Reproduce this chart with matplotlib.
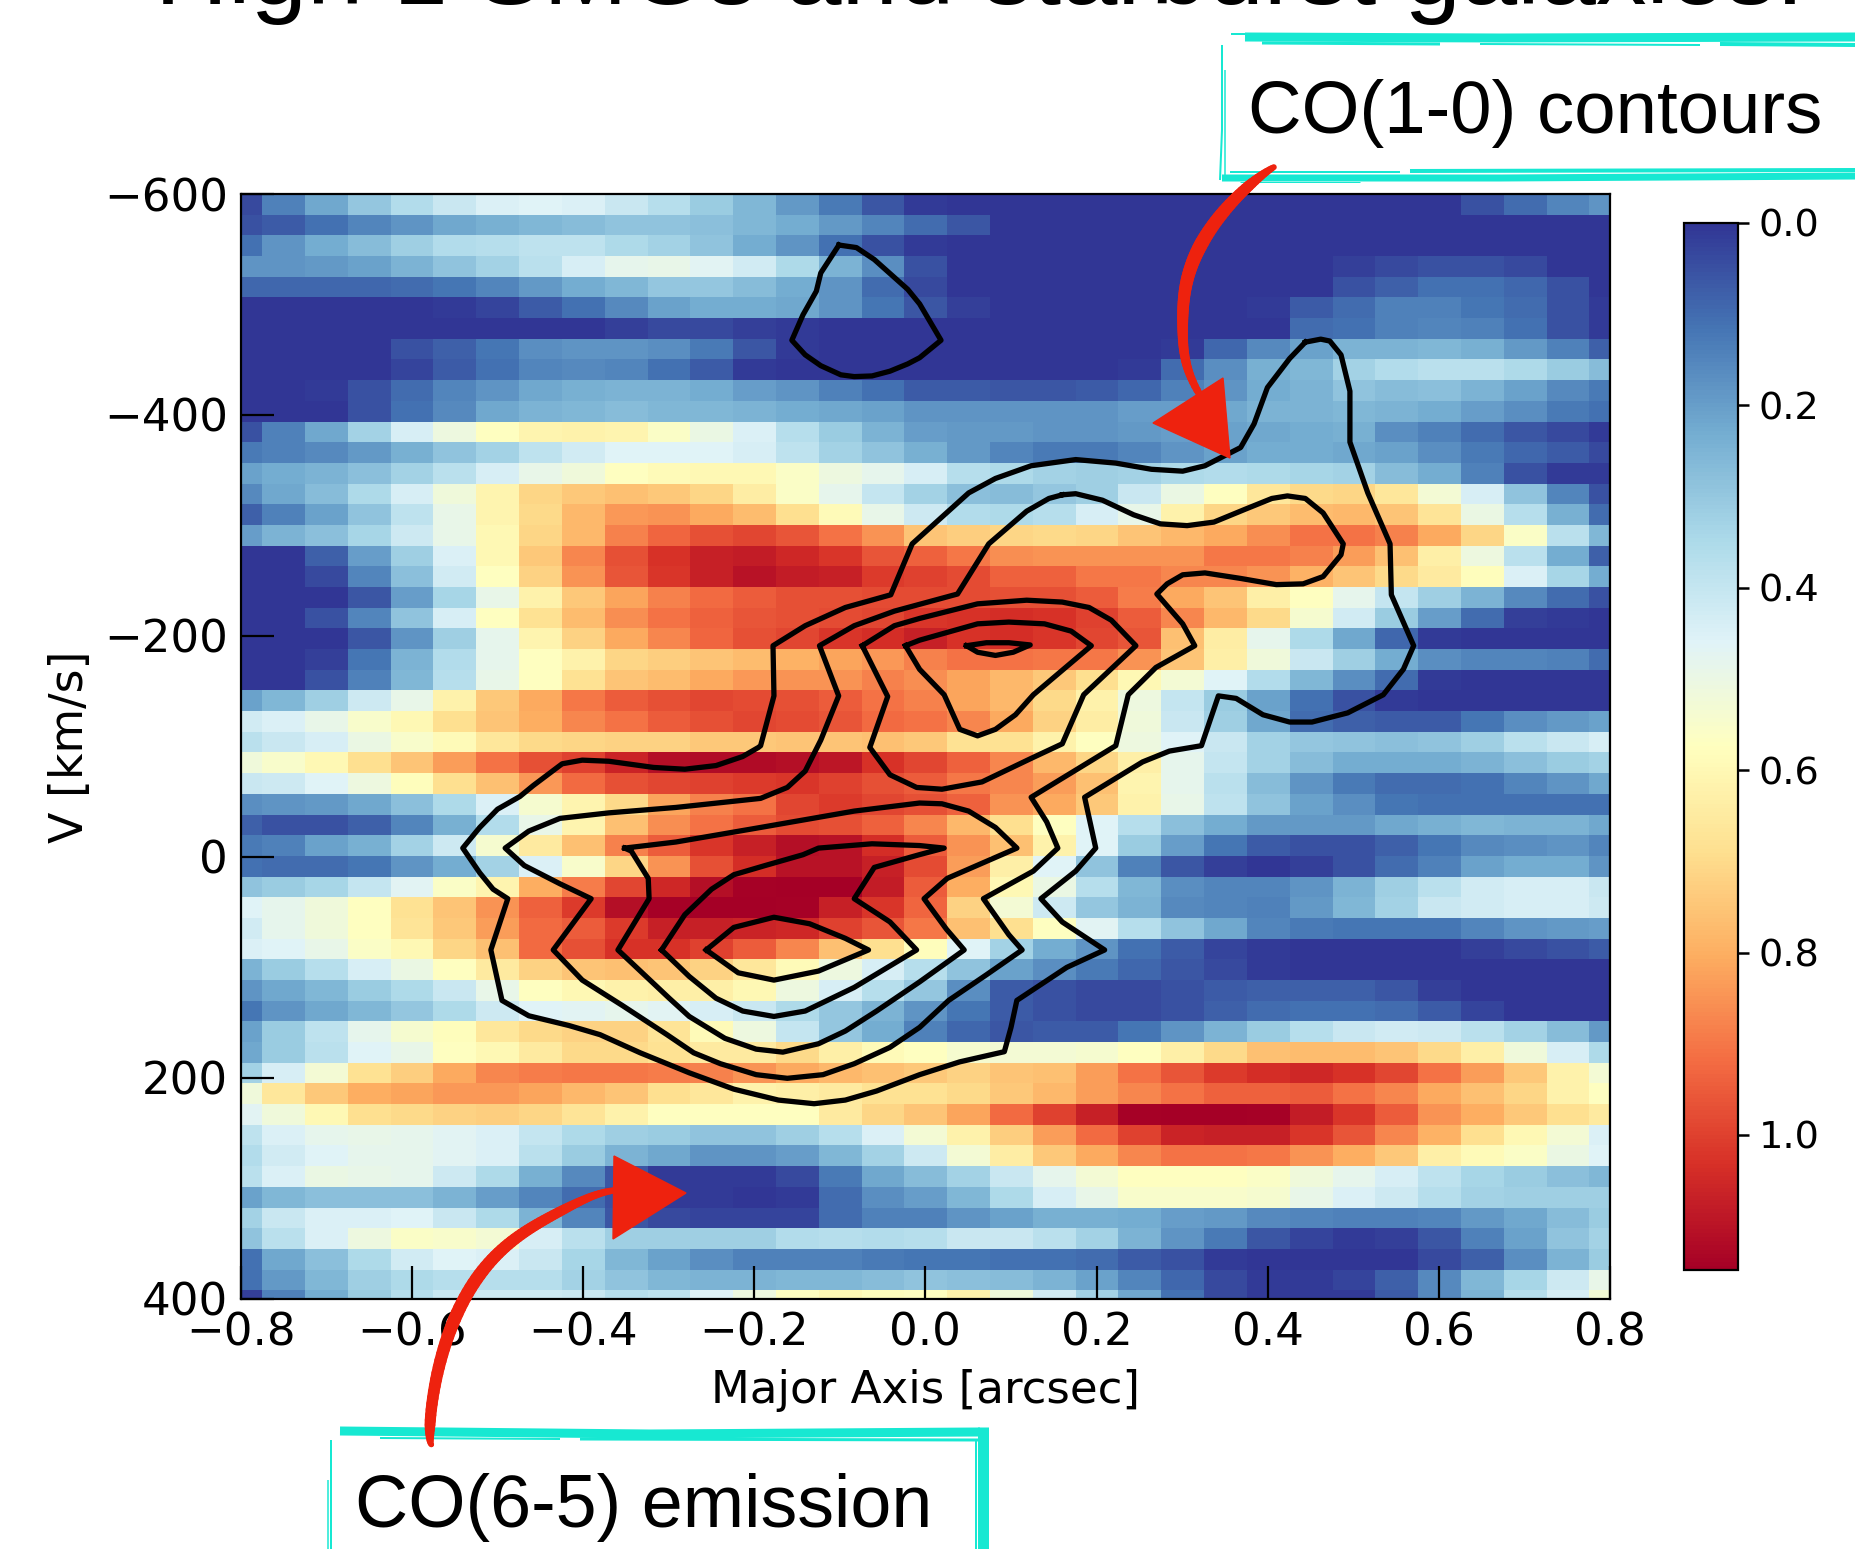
#!/usr/bin/env python3
import numpy as np
import matplotlib
matplotlib.use("Agg")
import matplotlib.pyplot as plt

W, H = 1856, 1549

# CO(6-5) map, flux x 100, one row per velocity channel (top = -600 km/s)
co65_x100 = [
    [4,14,22,30,36,41,45,46,45,41,37,31,26,19,13,6,1, 0,0,0,0,0,0,0,0,0,0,0,0,5,10,15,18],
    [5,7,11,15,18,22,24,26,27,29,29,28,26,23,19,15,10, 6,0,0,0,0,0,0,0,0,0,0,0,0,0,0,0],
    [11,18,23,27,32,36,37,39,39,35,33,29,23,18,11,5,1, 0,0,0,0,0,0,0,0,0,0,0,0,0,0,0,0],
    [18,18,19,21,25,29,33,38,44,48,49,47,43,35,25,17,5, 0,0,0,0,0,0,0,0,0,2,4,5,5,4,0,0],
    [9,9,9,9,10,12,15,19,23,26,30,30,27,23,18,10,4, 0,0,0,0,0,0,0,0,0,5,8,11,11,9,5,0],
    [0,0,0,0,0,1,3,7,11,16,21,23,23,22,18,12,6, 2,0,0,0,0,0,0,1,7,10,14,14,12,10,5,1],
    [0,0,0,0,0,0,0,0,0,2,4,4,2,1,0,0,0, 0,0,0,0,0,0,0,0,10,11,14,15,14,11,5,1],
    [0,0,0,0,5,8,12,17,18,18,17,13,6,1,0,0,0, 0,0,0,0,0,1,9,16,21,25,25,26,24,19,14,8],
    [0,0,0,0,3,7,11,15,16,15,11,7,1,0,0,0,0, 0,0,0,0,1,10,17,24,26,33,36,38,38,35,31,27],
    [0,0,1,5,10,15,18,22,24,25,25,23,20,18,14,11,7, 7,6,6,7,9,14,18,23,25,29,27,28,25,21,16,13],
    [0,0,0,5,11,16,22,25,26,27,26,26,25,23,22,21,18, 18,18,18,18,20,20,22,25,25,26,25,23,20,17,13,11],
    [5,14,22,33,44,51,57,61,62,61,56,50,45,37,31,25,20, 19,19,18,18,19,20,21,22,23,24,17,14,10,6,4,1],
    [13,14,16,19,24,29,33,39,43,46,46,46,44,39,33,29,24, 19,15,13,13,15,18,21,23,23,22,21,17,13,9,7,4],
    [21,23,25,28,33,38,44,49,52,57,59,60,60,56,51,48,44, 37,35,33,32,33,35,36,35,34,33,27,23,14,5,1,1],
    [16,22,27,35,44,52,61,71,74,76,74,71,64,56,48,40,33, 28,27,30,32,41,50,57,66,70,71,66,53,44,29,15,5],
    [8,14,21,29,39,49,61,70,78,84,85,81,77,69,59,49,42, 36,35,37,44,49,62,71,74,77,78,75,67,50,37,24,10],
    [20,25,28,34,42,49,60,71,78,88,93,97,99,96,91,85,75, 73,71,70,71,75,78,81,86,91,91,88,81,71,56,38,26],
    [0,0,8,20,32,45,60,74,87,97,103,107,108,105,102,96,94, 90,86,85,85,85,85,90,90,88,83,76,63,51,38,23,8],
    [0,0,4,15,28,43,57,72,85,96,102,107,110,108,107,101,100, 98,94,94,90,90,87,87,85,79,75,70,65,58,45,34,23],
    [0,0,0,6,20,34,49,62,74,82,88,92,95,97,97,98,98, 98,97,97,95,89,81,75,63,57,48,40,32,25,16,10,5],
    [0,0,5,15,29,44,57,68,77,86,91,94,96,97,98,99,102, 103,104,103,100,95,87,78,70,54,43,31,20,10,2,1,0],
    [0,0,0,6,18,32,48,61,72,81,87,93,97,99,102,104,107, 103,104,102,99,96,76,64,48,35,22,9,1,0,0,0,0],
    [0,0,2,12,25,36,48,57,62,71,73,75,77,79,82,84,88, 91,91,90,90,85,75,63,52,41,32,23,17,15,15,14,10],
    [0,0,5,14,26,37,49,57,68,75,77,81,84,85,85,88,86, 82,78,74,69,60,53,46,36,26,17,10,1,0,0,0,0],
    [21,26,32,42,49,62,74,81,90,95,97,99,98,97,95,91,88, 82,78,70,62,51,40,31,21,11,5,1,0,0,0,0,0],
    [43,45,49,55,60,69,75,80,87,91,95,97,99,98,96,92,91, 87,81,72,64,52,41,32,22,10,8,7,7,12,17,19,21],
    [38,41,44,50,55,59,66,70,71,72,72,74,74,75,75,76,74, 68,68,62,57,51,46,41,33,30,29,28,29,32,38,41,44],
    [52,55,60,69,75,83,91,97,100,106,111,112,112,111,109,103,99, 94,87,78,71,63,48,40,33,27,23,23,23,25,28,31,33],
    [41,42,46,51,58,69,76,84,92,97,99,100,101,102,100,97,95, 90,87,83,76,61,48,38,27,18,13,10,10,11,15,18,22],
    [17,18,19,22,28,35,45,54,61,70,82,88,91,99,101,99,97, 94,85,81,74,62,49,39,29,21,17,12,11,11,11,11,11],
    [8,5,5,8,15,24,36,49,61,76,86,91,95,98,97,94,87, 78,69,57,46,37,28,23,19,19,19,22,24,26,25,25,22],
    [13,14,21,24,33,42,54,65,76,88,95,102,107,111,110,104,95, 85,76,62,46,31,20,12,7,5,5,8,12,16,17,18,15],
    [11,10,10,12,18,23,33,45,55,71,85,97,104,110,110,107,98, 83,63,46,29,14,6,2,0,2,5,10,14,21,23,23,18],
    [29,31,34,40,47,56,61,80,89,99,105,111,114,115,115,108,95, 80,60,50,37,26,17,15,15,18,25,32,38,43,44,44,41],
    [46,48,52,57,68,75,85,94,101,111,114,115,115,114,107,102,93, 72,53,42,30,25,16,15,14,19,26,33,41,43,44,44,42],
    [43,48,52,57,67,74,83,92,95,101,107,107,106,105,100,96,90, 76,69,57,47,37,29,22,15,13,12,12,12,15,18,19,20],
    [45,46,49,56,60,71,76,92,97,103,103,100,95,87,76,69,58, 46,33,23,18,11,7,3,1,0,0,0,0,2,4,5,7],
    [25,31,37,44,50,57,65,72,75,76,75,72,66,59,51,44,37, 29,21,17,13,9,6,4,1,0,0,0,0,0,0,0,0],
    [18,22,26,31,35,41,49,57,60,62,63,63,60,51,44,37,30, 17,7,5,4,4,5,7,8,8,8,6,2,0,0,0,0],
    [12,18,22,26,30,35,42,46,47,48,47,44,41,35,30,25,18, 12,7,5,4,4,5,8,10,11,11,10,7,3,0,0,0],
    [21,31,39,48,54,58,66,70,72,72,67,59,51,40,30,23,14, 9,6,7,7,12,18,25,31,37,41,43,42,38,33,27,19],
    [22,31,38,46,49,57,60,65,70,70,68,65,65,70,63,59,57, 54,53,53,54,57,63,70,76,77,77,75,70,63,52,44,35],
    [33,44,53,68,73,81,87,89,90,90,89,88,85,81,78,76,74, 72,75,76,83,91,96,101,104,105,103,99,91,83,74,62,53],
    [52,66,74,80,82,84,84,82,78,75,69,66,62,63,65,68,68, 70,74,78,83,87,91,94,94,95,91,87,81,76,71,62,57],
    [47,52,60,69,70,72,73,71,67,62,57,57,57,57,65,71,75, 82,92,100,107,114,115,115,114,108,102,95,85,80,74,69,65],
    [39,45,48,49,48,47,45,40,35,32,31,29,29,32,37,45,53, 62,73,83,92,100,106,107,107,102,96,87,79,69,60,53,45],
    [36,43,46,48,48,47,45,38,31,25,22,18,18,20,26,33,42, 53,64,74,81,87,91,91,90,85,80,74,63,59,56,50,46],
    [38,45,50,49,48,42,35,24,16,6,1,1,1,4,13,22,27, 33,41,48,53,57,57,57,56,52,48,44,39,34,31,28,26],
    [21,26,28,28,28,25,20,15,10,5,1,1,0,1,10,17,20, 26,35,44,49,55,55,55,54,49,45,42,37,33,32,32,32],
    [33,41,45,45,46,41,35,25,15,6,4,3,3,3,10,14,14, 18,21,24,24,23,20,19,16,15,14,14,15,19,22,27,31],
    [29,38,45,51,56,55,53,44,38,32,32,32,32,36,37,36,37, 41,41,38,33,25,18,13,6,3,1,2,6,14,21,29,33],
    [11,22,28,35,43,46,45,41,34,26,21,17,14,14,14,13,12, 12,11,11,10,7,5,1,0,0,0,0,4,8,17,25,31],
    [11,19,26,32,35,37,37,37,33,29,26,25,25,26,26,27,29, 28,27,25,21,15,9,4,1,1,3,8,16,26,34,42,49],
    [2,14,23,31,37,41,42,42,41,37,39,46,51,57,60,58,57, 62,52,43,33,22,11,4,1,1,1,7,16,25,37,44,53],
]

# CO(1-0) contours, (major axis arcsec, velocity km/s)
contour_blob = [(-0.101,-553.8),(-0.0805,-551.5),(-0.0597,-540.7),(-0.0206,-513.7),(-0.0067,-500.5),(0.0183,-467.6),
    (-0.0067,-451.8),(-0.0206,-446.2),(-0.0414,-439.6),(-0.0623,-435.3),(-0.0831,-434.7),(-0.0987,-436.3),
    (-0.1222,-444.6),(-0.1404,-454.4),(-0.156,-467.6),(-0.143,-490.6),(-0.1274,-512),(-0.1222,-528.5)]
contour_outer = [(0.444,-465.9),(0.462,-468.6),(0.4726,-466.9),(0.4857,-454.4),(0.4961,-421.5),(0.4961,-375.4),
    (0.517,-329.4),(0.543,-283.3),(0.5445,-237.2),(0.5706,-191.1),(0.5586,-169.8),(0.5351,-146.7),(0.4935,-130.3),
    (0.4518,-122),(0.4257,-122),(0.3945,-128.6),(0.3632,-143.4),(0.3424,-145.7),(0.3226,-100.6),(0.2851,-95.7),
    (0.2538,-85.9),(0.1861,-53.9),(0.1991,-7.9),(0.1757,12.9),(0.135,37.9),(0.16,59),(0.2095,84.3),(0.1652,100.1),
    (0.1069,130),(0.1001,154.4),(0.0923,176.4),(0.0402,185.6),(-0.0067,197.2),(-0.057,212),(-0.0935,220.2),
    (-0.13,223.5),(-0.1717,220.2),(-0.2238,210.3),(-0.2759,195.5),(-0.3332,177.4),(-0.3801,161),(-0.4165,152.7),
    (-0.4634,143.9),(-0.4947,130),(-0.5077,84.3),(-0.4879,37.9),(-0.5051,29.3),(-0.5207,14.5),(-0.5405,-7.9),
    (-0.5207,-26.6),(-0.4999,-43.1),(-0.4738,-54.6),(-0.4582,-64.5),(-0.4244,-84.2),(-0.4009,-87.5),(-0.3697,-86.5),
    (-0.3175,-80.9),(-0.2811,-79.3),(-0.2446,-82.6),(-0.2134,-90.8),(-0.1951,-99),(-0.1925,-100.6),(-0.1769,-145.7),
    (-0.178,-191.1),(-0.1404,-209.2),(-0.0935,-225.7),(-0.0404,-237.2),(-0.0154,-283.3),(0.0506,-329.4),
    (0.0819,-342.5),(0.1236,-354),(0.1757,-359.6),(0.2225,-356.4),(0.2642,-350.8),(0.3007,-349.1),(0.3267,-354),
    (0.3684,-370.5),(0.3841,-391.9),(0.3997,-424.8),(0.4257,-451.1)]
contour_second = [(0.16,-327.7),(0.1757,-328.7),(0.207,-322.8),(0.2434,-309.6),(0.2746,-301.4),(0.3059,-299.8),
    (0.3372,-303),(0.3736,-314.6),(0.4049,-324.4),(0.4231,-326.7),(0.444,-324.4),(0.4648,-311.3),(0.4883,-283.3),
    (0.4857,-273.4),(0.4648,-253.7),(0.4414,-247.1),(0.4101,-246.4),(0.3684,-252),(0.3267,-257),(0.3007,-255.3),
    (0.2825,-247.1),(0.2705,-237.9),(0.3007,-210.9),(0.3148,-191.1),(0.2694,-171.4),(0.2371,-146.7),(0.2225,-100.6),
    (0.1236,-53.9),(0.1418,-31.6),(0.1548,-7.9),(0.1262,12.9),(0.0678,37.9),(0.0975,70.5),(0.1131,84.3),
    (0.0715,106.7),(0.0272,130),(-0.0067,154.4),(-0.0414,172.5),(-0.0831,187.3),(-0.1196,197.2),(-0.1613,200.5),
    (-0.1977,197.2),(-0.2394,187.3),(-0.2707,177.4),(-0.3019,161),(-0.354,134.6),(-0.4009,111.6),(-0.4348,84.3),
    (-0.3905,37.9),(-0.427,24.4),(-0.4686,7.9),(-0.491,-7.9),(-0.4634,-23.3),(-0.427,-34.8),(-0.3697,-39.8),
    (-0.2915,-44.7),(-0.1925,-52.9),(-0.1613,-62.8),(-0.1404,-77.6),(-0.1222,-105.6),(-0.1013,-145.7),
    (-0.1237,-191.1),(-0.0831,-209.2),(-0.0362,-222.4),(0.0376,-237.9),(0.0741,-283.3),(0.1184,-312.9),(0.1444,-324.4)]
contour_upper3 = [(-0.0737,-191.1),(-0.044,-145.1),(-0.0649,-99),(-0.0414,-74.3),(-0.0102,-62.8),(0.0194,-61.2),
    (0.0662,-67.8),(0.1236,-89.1),(0.16,-102.3),(0.185,-146.7),(0.246,-191.1),(0.2173,-214.2),(0.1913,-225.7),
    (0.16,-230.6),(0.1184,-232.3),(0.061,-229),(-0.0067,-215.8),(-0.0362,-209.2)]
contour_upper4 = [(-0.0232,-191.1),(-0.0067,-169.7),(0.022,-146.7),(0.0402,-115.4),(0.061,-109.5),(0.0819,-115.4),
    (0.1053,-128.6),(0.1262,-146.7),(0.1939,-191.1),(0.1704,-204.3),(0.1392,-210.9),(0.0975,-212.5),(0.061,-210.9),
    (-0.0067,-196.1)]
contour_upper5 = [(0.048,-191.1),(0.061,-185.2),(0.0819,-182.3),(0.1027,-185.2),(0.1225,-191.8),(0.0975,-193.8),
    (0.0714,-193.8)]
contour_lower3 = [(-0.3514,-7.9),(-0.2915,-13.4),(-0.1925,-26.6),(-0.0831,-41.4),(-0.0067,-48.7),(0.0194,-48),
    (0.0506,-41.4),(0.0819,-26.6),(0.107,-7.9),(0.0256,19.5),(-0.0015,37.9),(0.0246,65.5),(0.0454,84.3),
    (-0.0067,113.2),(-0.057,139.6),(-0.0935,157.7),(-0.1248,169.2),(-0.1665,176.8),(-0.1977,174.1),(-0.2342,164.3),
    (-0.2759,144.5),(-0.2993,128),(-0.3592,84.3),(-0.3228,37.9),(-0.3238,19.5),(-0.3436,-5.2)]
contour_lower4 = [(-0.3082,84.3),(-0.2811,52.4),(-0.2498,29.3),(-0.2238,16.2),(-0.1873,7.9),(-0.143,-1.9),
    (-0.1248,-7.9),(-0.0623,-11.8),(-0.0067,-10.2),(0.022,-7.9),(-0.0067,-2),(-0.0597,9.6),(-0.0831,37.9),
    (-0.0414,58.9),(-0.0102,84.3),(-0.0831,118.2),(-0.1404,139.6),(-0.1769,144.5),(-0.2134,139.6),(-0.2446,128),
    (-0.2759,108.3)]
contour_lower5 = [(-0.2561,84.3),(-0.2238,63.9),(-0.1769,54.7),(-0.1352,60.6),(-0.0935,73.8),(-0.0664,84.3),
    (-0.1248,103.4),(-0.1769,111.6),(-0.2186,105)]
contours = [contour_blob, contour_outer, contour_second, contour_upper3, contour_upper4, contour_upper5,
            contour_lower3, contour_lower4, contour_lower5]

x_ticks = [-0.8, -0.6, -0.4, -0.2, 0.0, 0.2, 0.4, 0.6, 0.8]
v_ticks = [-600, -400, -200, 0, 200, 400]
cbar_ticks = [0.0, 0.2, 0.4, 0.6, 0.8, 1.0]
vmax = 1.148

fig = plt.figure(figsize=(W / 100, H / 100), dpi=100)

left, right, top, bottom = 240.7, 1610, 194, 1298.7
ax = fig.add_axes([left / W, 1 - bottom / H, (right - left) / W, (bottom - top) / H])
co65 = np.array(co65_x100) / 100
im = ax.imshow(co65, cmap="RdYlBu_r", vmin=0, vmax=vmax, aspect="auto", interpolation="nearest",
               extent=(-0.825, 0.825, -600 + 54 * 18.72, -600))
for c in contours:
    xs = [p[0] for p in c] + [c[0][0]]
    vs = [p[1] for p in c] + [c[0][1]]
    ax.plot(xs, vs, color="black", lw=3.8, solid_joinstyle="round")
ax.set_xlim(-0.8, 0.8)
ax.set_ylim(400, -600)
ax.set_xticks(x_ticks)
ax.set_yticks(v_ticks)
ax.tick_params(direction="in", length=24, width=1.6, labelsize=32.5, pad=9)
ax.set_xlabel("Major Axis [arcsec]", fontsize=32.5, labelpad=11)
ax.set_ylabel("V [km/s]", fontsize=33, labelpad=8)
for s in ax.spines.values():
    s.set_linewidth(1.6)

cax = fig.add_axes([1684.5 / W, 1 - 1270 / H, (1737.6 - 1684.5) / W, (1270 - 222.7) / H])
cb = fig.colorbar(im, cax=cax, ticks=cbar_ticks)
cax.invert_yaxis()
cax.tick_params(length=8, width=1.8, labelsize=27.5, pad=7)
cb.outline.set_linewidth(1.6)

# hand drawn annotations on top, in pixels
ov = fig.add_axes([0, 0, 1, 1], zorder=10)
ov.set_xlim(0, W)
ov.set_ylim(H, 0)
ov.axis("off")
ov.patch.set_alpha(0)

teal = "#17e8d2"
red = "#ee220e"


def px(v):
    return v * 0.72


def band(xs, ys, width):
    ov.plot(xs, ys, color=teal, lw=px(width), solid_capstyle="butt")


# top right box
band([1245, 1500, 1856], [37, 38, 37], 9)
band([1262, 1440], [43, 44], 3)
band([1480, 1700], [44, 45], 2)
band([1720, 1856], [44, 45], 4)
band([1231, 1300], [34, 34], 2)
band([1222, 1222, 1220], [45, 130, 180], 2)
band([1225, 1225], [70, 175], 1.5)
band([1222, 1500, 1856], [178, 178, 176], 7)
band([1230, 1400], [172, 172], 2)
band([1410, 1856], [171, 170], 4)
band([1240, 1360], [182, 182], 1)

# bottom box
band([340, 650, 980], [1431, 1434, 1432], 9)
band([380, 560], [1438, 1439], 2)
band([580, 980], [1439, 1440], 3)
band([983, 983], [1427, 1549], 11)
band([976, 976], [1440, 1549], 2)
band([331, 331], [1440, 1549], 2)
band([328, 328], [1480, 1549], 1.5)

ov.text(155, 4, "High-z SMGs and starburst galaxies:", family="Liberation Sans", fontsize=72.9,
        va="baseline", ha="left", color="black")
ov.text(1248, 133, "CO(1-0) contours", family="Liberation Sans", fontsize=53.6, va="baseline", ha="left")
ov.text(355, 1527, "CO(6-5) emission", family="Liberation Sans", fontsize=53, va="baseline", ha="left")


def arrow(path, widths, head):
    pts = np.array(path, dtype=float)
    t = np.linspace(0, 1, len(pts))
    tt = np.linspace(0, 1, 80)
    # smooth the pen stroke through the traced points
    sx = np.polyval(np.polyfit(t, pts[:, 0], 5), tt)
    sy = np.polyval(np.polyfit(t, pts[:, 1], 5), tt)
    sw = np.interp(tt, np.linspace(0, 1, len(widths)), widths)
    for i in range(len(tt) - 1):
        ov.plot(sx[i:i + 2], sy[i:i + 2], color=red, lw=px(sw[i]), solid_capstyle="round")
    ov.fill([p[0] for p in head], [p[1] for p in head], color=red, lw=1)


arrow([(1273, 168), (1255, 180), (1225, 210), (1206, 234), (1194, 262), (1188, 282), (1183, 305), (1181, 325),
       (1183, 345), (1188, 362), (1199, 395)],
      [6, 11, 13, 14, 13, 12, 11, 10, 9, 7],
      [(1223, 378), (1153, 423), (1230, 458)])
arrow([(432, 1445), (432, 1427), (433, 1390), (445, 1340), (470, 1290), (490, 1262), (516, 1240), (540, 1222),
       (566, 1207), (590, 1198), (617, 1190)],
      [3, 11, 12, 13, 13, 12, 11, 10, 8, 6],
      [(614, 1156), (686, 1193), (613, 1239)])

fig.savefig("out.png", dpi=100)
